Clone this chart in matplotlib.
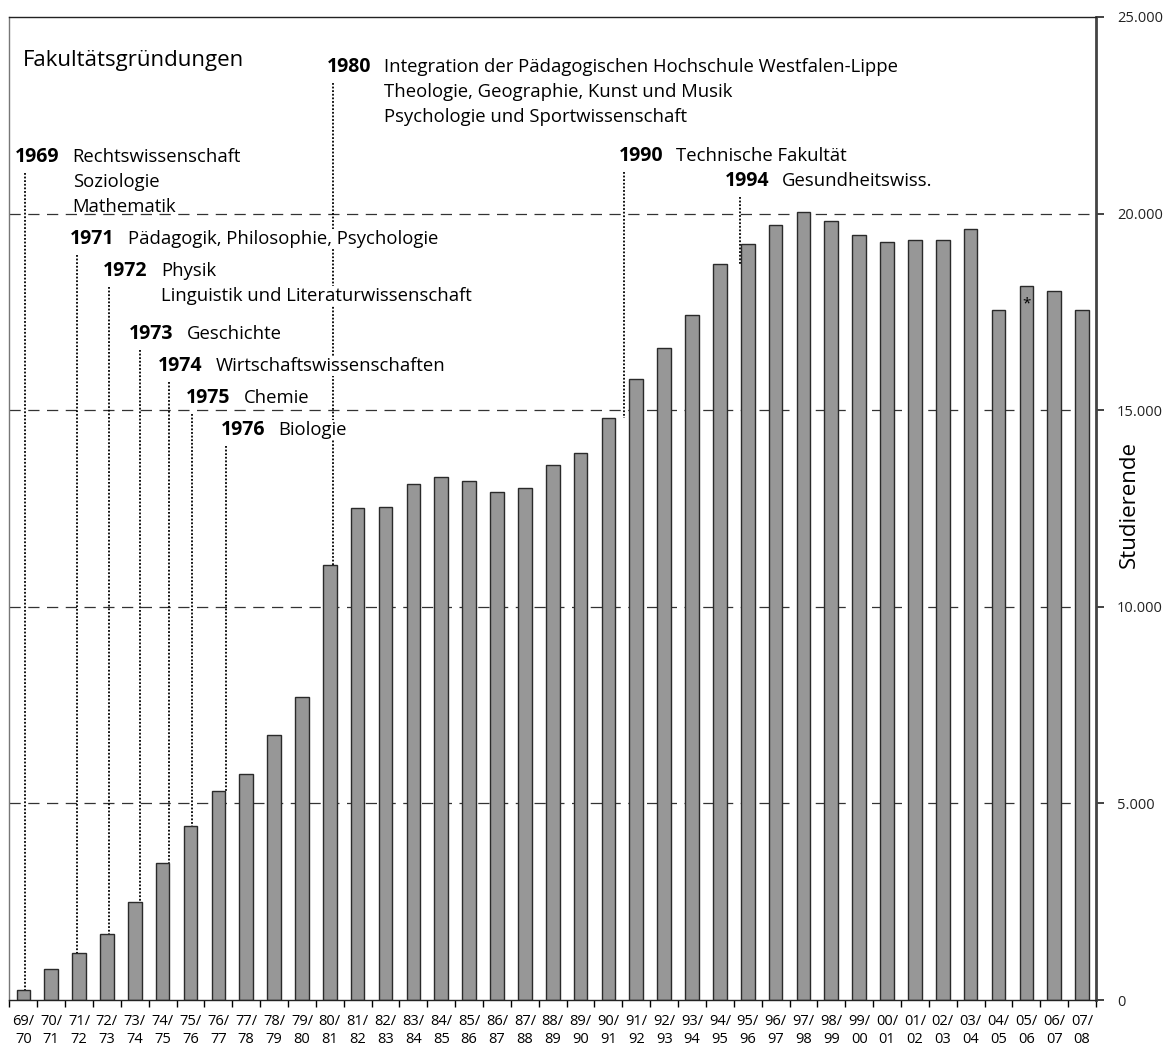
import matplotlib
matplotlib.use("Agg")
import matplotlib.pyplot as plt
from matplotlib.ticker import FuncFormatter, FixedLocator

plt.rcParams["font.family"] = ["Open Sans", "DejaVu Sans"]

# Wintersemester und Studierendenzahlen
semester = ["69/70", "70/71", "71/72", "72/73", "73/74", "74/75", "75/76", "76/77",
            "77/78", "78/79", "79/80", "80/81", "81/82", "82/83", "83/84", "84/85",
            "85/86", "86/87", "87/88", "88/89", "89/90", "90/91", "91/92", "92/93",
            "93/94", "94/95", "95/96", "96/97", "97/98", "98/99", "99/00", "00/01",
            "01/02", "02/03", "03/04", "04/05", "05/06", "06/07", "07/08"]
studierende = [250, 780, 1190, 1670, 2485, 3490, 4425, 5310, 5740, 6730, 7705,
               11060, 12500, 12530, 13130, 13290, 13210, 12930, 13010, 13600, 13900,
               14790, 15790, 16580, 17420, 18720, 19220, 19720, 20030, 19800, 19450,
               19270, 19320, 19340, 19620, 17540, 18150, 18020, 17560]
y_ticks = [0, 5000, 10000, 15000, 20000, 25000]

# Fakultaetsgruendungen
gruendung_jahr = ["1969", "1971", "1972", "1973", "1974", "1975", "1976", "1980", "1990", "1994"]
gruendung_text = [
    ["Rechtswissenschaft", "Soziologie", "Mathematik"],
    ["Pädagogik, Philosophie, Psychologie"],
    ["Physik", "Linguistik und Literaturwissenschaft"],
    ["Geschichte"],
    ["Wirtschaftswissenschaften"],
    ["Chemie"],
    ["Biologie"],
    ["Integration der Pädagogischen Hochschule Westfalen-Lippe",
     "Theologie, Geographie, Kunst und Musik",
     "Psychologie und Sportwissenschaft"],
    ["Technische Fakultät"],
    ["Gesundheitswiss."],
]
gruendung_balken = [0, 2, 3, 4, 5, 6, 7, 11, 21, 25]

# Layout der Beschriftungen (x in Balkeneinheiten, y in Studierenden)
label_x = [-0.30, 1.68, 2.87, 3.80, 4.84, 5.85, 7.08, 10.88, 21.36, 25.17]
label_y = [21440, 19355, 18540, 16940, 16120, 15310, 14500, 23730, 21470, 20830]
line_dx = [0.06, -0.06, 0.08, 0.20, 0.22, 0.05, 0.27, 0.10, 0.57, 0.71]
white_box = [False, True, True, True, True, True, True, False, False, False]
line_step = 636
text_dx = 2.07

fig = plt.figure(figsize=(11.66, 10.48), dpi=100)
ax = fig.add_axes([0.00806, 0.0458, 0.9319, 0.9380])

x = list(range(len(semester)))
ax.bar(x, studierende, width=0.49, color="#979797", edgecolor="#2a2a2a",
       linewidth=1.0, zorder=2)

for v in y_ticks[1:-1]:
    ax.axhline(v, color="#333333", linewidth=0.9, linestyle=(0, (9, 6)), zorder=1)

for i, jahr in enumerate(gruendung_jahr):
    b = gruendung_balken[i]
    ax.plot([b + line_dx[i], b + line_dx[i]], [label_y[i] - 400, studierende[b]],
            color="black", linewidth=1.3, linestyle=(0, (1, 1)), zorder=3)
    ax.text(label_x[i], label_y[i], jahr, fontsize=14, fontweight="bold",
            ha="left", va="center", zorder=4)
    for k, zeile in enumerate(gruendung_text[i]):
        bbox = dict(facecolor="white", edgecolor="none", pad=0.5) if white_box[i] else None
        ax.text(label_x[i] + text_dx, label_y[i] - k * line_step, zeile, fontsize=13.3,
                ha="left", va="center", zorder=4, bbox=bbox)

ax.text(0.0, 23900, "Fakultätsgründungen", fontsize=16, ha="left", va="center", zorder=4)
ax.text(36, studierende[36] - 450, "*", fontsize=11, ha="center", va="center", zorder=4)

ax.set_xlim(-0.5, len(semester) - 0.5)
ax.set_ylim(0, 25000)

ax.yaxis.tick_right()
ax.yaxis.set_major_locator(FixedLocator(y_ticks))
ax.yaxis.set_major_formatter(FuncFormatter(lambda v, p: f"{int(v):,}".replace(",", ".")))
ax.tick_params(axis="y", direction="out", length=6, width=1.2, labelsize=10.5, pad=9,
               colors="#222222")
ax.set_ylabel("Studierende", fontsize=16, rotation=90)
ax.yaxis.set_label_position("right")
ax.yaxis.set_label_coords(1.0212, 0.5036)

ax.set_xticks(x)
ax.set_xticklabels([s.replace("/", "/\n") for s in semester], fontsize=10.5, linespacing=1.25)
ax.set_xticks([i + 0.5 for i in range(-1, len(semester))], minor=True)
ax.tick_params(axis="x", which="major", length=0, pad=10)
ax.tick_params(axis="x", which="minor", direction="out", length=5, width=1)

for side in ["top", "bottom"]:
    ax.spines[side].set_color("#222222")
    ax.spines[side].set_linewidth(1.0)
ax.spines["left"].set_color("#777777")
ax.spines["left"].set_linewidth(1.0)
ax.spines["right"].set_color("#444444")
ax.spines["right"].set_linewidth(2.0)

fig.savefig("out.png", dpi=100)
